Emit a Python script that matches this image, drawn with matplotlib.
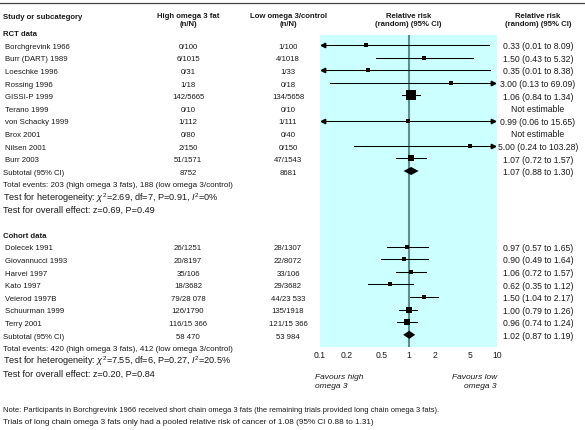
import matplotlib
matplotlib.use('Agg')
import matplotlib.pyplot as plt
import numpy as np

plt.rcParams['font.family'] = ['Liberation Sans', 'DejaVu Sans']
plt.rcParams['mathtext.fontset'] = 'custom'
plt.rcParams['mathtext.rm'] = 'Liberation Sans'
plt.rcParams['mathtext.it'] = 'Liberation Sans:italic'

# RCT data
rct_names = ['Borchgrevink 1966', 'Burr (DART) 1989', 'Loeschke 1996', 'Rossing 1996',
             'GISSI-P 1999', 'Terano 1999', 'von Schacky 1999', 'Brox 2001',
             'Nilsen 2001', 'Burr 2003']
rct_high = ['0/100', '6/1015', '0/31', '1/18', '142/5665', '0/10', '1/112', '0/80', '2/150', '51/1571']
rct_low = ['1/100', '4/1018', '1/33', '0/18', '134/5658', '0/10', '1/111', '0/40', '0/150', '47/1543']
rct_rr = [0.33, 1.50, 0.35, 3.00, 1.06, None, 0.99, None, 5.00, 1.07]
rct_lo = [0.01, 0.43, 0.01, 0.13, 0.84, None, 0.06, None, 0.24, 0.72]
rct_hi = [8.09, 5.32, 8.38, 69.09, 1.34, None, 15.65, None, 103.28, 1.57]
rct_weight = [0.5, 3.6, 0.5, 0.6, 70.8, 0, 0.7, 0, 0.6, 22.7]
rct_total = ['8752', '8681']
rct_pooled = [1.07, 0.88, 1.30]
rct_events = 'Total events: 203 (high omega 3 fats), 188 (low omega 3/control)'
rct_het = r'Test for heterogeneity: $\chi^2$=2.69, df=7, P=0.91, $I^2$=0%'
rct_z = 'Test for overall effect: z=0.69, P=0.49'

# Cohort data
coh_names = ['Dolecek 1991', 'Giovannucci 1993', 'Harvei 1997', 'Kato 1997',
             'Veierod 1997B', 'Schuurman 1999', 'Terry 2001']
coh_high = ['26/1251', '20/8197', '35/106', '18/3682', '79/28 078', '126/1790', '116/15 366']
coh_low = ['28/1307', '22/8072', '33/106', '29/3682', '44/23 533', '135/1918', '121/15 366']
coh_rr = [0.97, 0.90, 1.06, 0.62, 1.50, 1.00, 0.96]
coh_lo = [0.57, 0.49, 0.72, 0.35, 1.04, 0.79, 0.74]
coh_hi = [1.65, 1.64, 1.57, 1.12, 2.17, 1.26, 1.24]
coh_weight = [7.0, 5.3, 10.9, 6.3, 13.5, 33.2, 23.8]
coh_total = ['58 470', '53 984']
coh_pooled = [1.02, 0.87, 1.19]
coh_events = 'Total events: 420 (high omega 3 fats), 412 (low omega 3/control)'
coh_het = r'Test for heterogeneity: $\chi^2$=7.55, df=6, P=0.27, $I^2$=20.5%'
coh_z = 'Test for overall effect: z=0.20, P=0.84'

ticks = [0.1, 0.2, 0.5, 1, 2, 5, 10]
tick_labels = ['0.1', '0.2', '0.5', '1', '2', '5', '10']

notes = ['Note: Participants in Borchgrevink 1966 received short chain omega 3 fats '
         '(the remaining trials provided long chain omega 3 fats).',
         'Trials of long chain omega 3 fats only had a pooled relative risk of cancer of 1.08 (95% CI 0.88 to 1.31)']

W, H = 585, 431
FS = 5.6
FS_RR = 6.2
FS_TEST = 6.6
TXT = '#1a1a1a'
ROW0, DY = 33.4, 12.6          # pixel position of first row and row step
X_NAME, X_HIGH, X_LOW, X_RR = 5, 188, 288, 538
PX_L, PX_R, PY_T, PY_B = 320, 497, 36, 348


def row_y(k):
    return ROW0 + DY * k


fig = plt.figure(figsize=(W / 100, H / 100), dpi=100)
bg = fig.add_axes([0, 0, 1, 1])
bg.set_xlim(0, W)
bg.set_ylim(H, 0)
bg.axis('off')

# forest panel
ax = fig.add_axes([PX_L / W, 1 - PY_B / H, (PX_R - PX_L) / W, (PY_B - PY_T) / H])
ax.set_xscale('log')
ax.set_xlim(0.1, 10)
ax.set_ylim((PY_B - ROW0) / DY, (PY_T - ROW0) / DY)
ax.set_facecolor('#ccffff')
for s in ax.spines.values():
    s.set_visible(False)
ax.set_xticks(ticks)
ax.set_xticklabels(tick_labels)
ax.minorticks_off()
ax.tick_params(axis='x', length=0, pad=2.5, labelsize=FS + 0.6, labelcolor=TXT)
ax.set_yticks([])
ax.axvline(1, color='#5f8e8e', lw=1.5, zorder=1)


def txt(x, y, s, ha='left', fs=FS, **kw):
    # y is the visual centre of the line in pixels; place on baseline
    bg.text(x, y + 0.36 * fs * 1.389, s, ha=ha, va='baseline', fontsize=fs, color=TXT, **kw)


def draw_study(k, rr, lo, hi, w):
    left = max(lo, 0.1)
    right = min(hi, 10)
    if lo < 0.1:
        left = 0.1 * 10 ** 0.035
        ax.plot(0.1 * 10 ** 0.03, k, marker='<', ms=3.2, color='black', zorder=3)
    if hi > 10:
        right = 10 ** 0.955
        ax.plot(10 ** 0.96, k, marker='>', ms=3.2, color='black', zorder=3)
    ax.plot([left, right], [k, k], color='black', lw=0.75, zorder=2)
    side = max(4.0, 1.2 * np.sqrt(w))
    ax.plot(rr, k, marker='s', ms=side * 0.72, color='black', mew=0, zorder=4)


def draw_diamond(k, rr, lo, hi):
    ax.fill([lo, rr, hi, rr], [k, k - 0.32, k, k + 0.32], color='black', lw=0, zorder=4)


def draw_group(k0, title, names, high, low, rr, lo, hi, wt, total, pooled, events, het, z):
    txt(3, row_y(k0), title, fontweight='bold')
    for i, name in enumerate(names):
        k = k0 + 1 + i
        y = row_y(k)
        txt(X_NAME, y, name)
        txt(X_HIGH, y, high[i], ha='center')
        txt(X_LOW, y, low[i], ha='center')
        if rr[i] is None:
            txt(X_RR, y, 'Not estimable', ha='center', fs=FS_RR)
        else:
            txt(X_RR, y, f'{rr[i]:.2f} ({lo[i]:.2f} to {hi[i]:.2f})', ha='center', fs=FS_RR)
            draw_study(k, rr[i], lo[i], hi[i], wt[i])
    k = k0 + 1 + len(names)
    y = row_y(k)
    txt(3, y, 'Subtotal (95% CI)')
    txt(X_HIGH, y, total[0], ha='center')
    txt(X_LOW, y, total[1], ha='center')
    txt(X_RR, y, f'{pooled[0]:.2f} ({pooled[1]:.2f} to {pooled[2]:.2f})', ha='center', fs=FS_RR)
    draw_diamond(k, *pooled)
    txt(3, row_y(k + 1), events, fs=5.75)
    txt(3, row_y(k + 2), het, fs=FS_TEST)
    txt(3, row_y(k + 3), z, fs=FS_TEST)
    return k + 3


# headers
bg.plot([0, W], [3.5, 3.5], color='#444444', lw=0.9)
txt(3, 16.5, 'Study or subcategory', fontweight='bold')
for x, l1, l2 in [(X_HIGH, 'High omega 3 fat', '(n/N)'),
                  (X_LOW, 'Low omega 3/control', '(n/N)'),
                  ((PX_L + PX_R) / 2, 'Relative risk', '(random) (95% CI)'),
                  (X_RR, 'Relative risk', '(random) (95% CI)')]:
    txt(x, 15, l1, ha='center', fontweight='bold')
    txt(x, 23.5, l2, ha='center', fontweight='bold')

last = draw_group(0, 'RCT data', rct_names, rct_high, rct_low, rct_rr, rct_lo, rct_hi,
                  rct_weight, rct_total, rct_pooled, rct_events, rct_het, rct_z)
draw_group(last + 2, 'Cohort data', coh_names, coh_high, coh_low, coh_rr, coh_lo, coh_hi,
           coh_weight, coh_total, coh_pooled, coh_events, coh_het, coh_z)

# favours labels
txt(315, 376, 'Favours high', style='italic', fs=6.0)
txt(315, 384.5, 'omega 3', style='italic', fs=6.0)
txt(PX_R, 376, 'Favours low', ha='right', style='italic', fs=6.0)
txt(PX_R, 384.5, 'omega 3', ha='right', style='italic', fs=6.0)

txt(3, 409.5, notes[0], fs=5.45)
txt(3, 421.5, notes[1], fs=5.9)

fig.savefig('out.png', dpi=100)
